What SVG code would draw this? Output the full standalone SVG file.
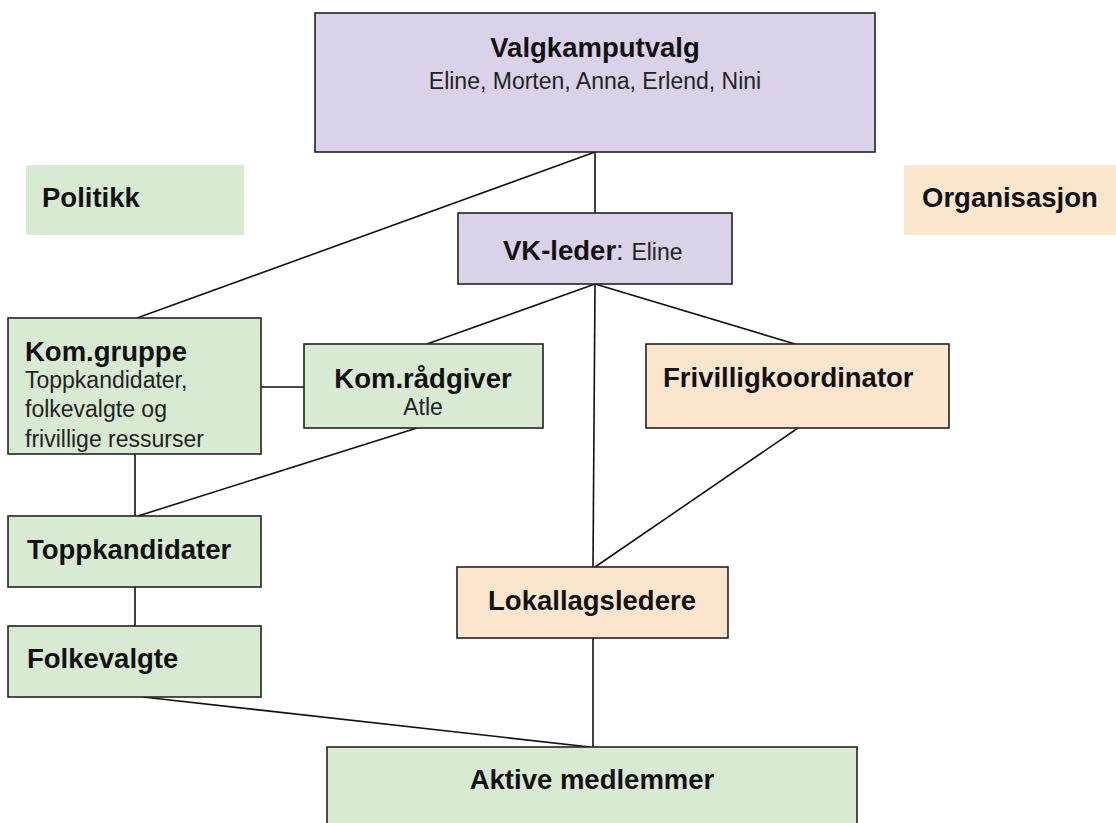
<svg xmlns="http://www.w3.org/2000/svg" width="1116" height="823" viewBox="0 0 1116 823">
<style>
.box{stroke:#222;stroke-width:1.6}
.lav{fill:#d9d2e9}
.grn{fill:#d9ead3}
.pch{fill:#fce5cd}
.b{font-family:"Liberation Sans",Arial,sans-serif;font-weight:bold;font-size:27.5px;fill:#111}
.r{font-family:"Liberation Sans",Arial,sans-serif;font-size:23px;fill:#222}
.c{text-anchor:middle}
.ln{stroke:#111;stroke-width:1.6;fill:none}
</style>
<rect width="1116" height="823" fill="#fff"/>
<g id="connectors">
<line class="ln" x1="595" y1="152" x2="595" y2="213"/>
<line class="ln" x1="595" y1="152" x2="137" y2="318"/>
<line class="ln" x1="595" y1="284" x2="427" y2="344"/>
<line class="ln" x1="595" y1="284" x2="795" y2="344"/>
<line class="ln" x1="595" y1="284" x2="593" y2="567"/>
<line class="ln" x1="261" y1="387" x2="304" y2="387"/>
<line class="ln" x1="417" y1="428" x2="138" y2="516"/>
<line class="ln" x1="135" y1="454" x2="135" y2="516"/>
<line class="ln" x1="135" y1="587" x2="135" y2="626"/>
<line class="ln" x1="798" y1="428" x2="595" y2="567"/>
<line class="ln" x1="143" y1="697" x2="590" y2="747"/>
<line class="ln" x1="593" y1="638" x2="593" y2="747"/>
</g>
<g id="valgkamputvalg">
<rect class="box lav" x="315" y="13" width="560" height="139"/>
<text class="b c" x="595" y="57">Valgkamputvalg</text>
<text class="r c" x="595" y="89">Eline, Morten, Anna, Erlend, Nini</text>
</g>
<g id="politikk">
<rect class="grn" x="26" y="165" width="218" height="70"/>
<text class="b" x="42" y="207">Politikk</text>
</g>
<g id="organisasjon">
<rect class="pch" x="904" y="165" width="212" height="70"/>
<text class="b" x="922" y="207">Organisasjon</text>
</g>
<g id="vk-leder">
<rect class="box lav" x="458" y="213" width="274" height="71"/>
<text class="b" x="503" y="260">VK-leder<tspan style="font-weight:normal">: </tspan><tspan class="r" style="font-weight:normal">Eline</tspan></text>
</g>
<g id="kom-gruppe">
<rect class="box grn" x="8" y="318" width="253" height="136"/>
<text class="b" x="25" y="361">Kom.gruppe</text>
<text class="r" x="25" y="388">Toppkandidater,</text>
<text class="r" x="25" y="417">folkevalgte og</text>
<text class="r" x="25" y="447">frivillige ressurser</text>
</g>
<g id="kom-radgiver">
<rect class="box grn" x="304" y="344" width="239" height="84"/>
<text class="b c" x="423" y="388">Kom.rådgiver</text>
<text class="r c" x="423" y="415">Atle</text>
</g>
<g id="frivilligkoordinator">
<rect class="box pch" x="646" y="344" width="303" height="84"/>
<text class="b" x="663" y="387">Frivilligkoordinator</text>
</g>
<g id="toppkandidater">
<rect class="box grn" x="8" y="516" width="253" height="71"/>
<text class="b" x="27" y="559">Toppkandidater</text>
</g>
<g id="folkevalgte">
<rect class="box grn" x="8" y="626" width="253" height="71"/>
<text class="b" x="27" y="668">Folkevalgte</text>
</g>
<g id="lokallagsledere">
<rect class="box pch" x="457" y="567" width="271" height="71"/>
<text class="b c" x="592" y="610">Lokallagsledere</text>
</g>
<g id="aktive-medlemmer">
<rect class="box grn" x="327" y="747" width="530" height="90"/>
<text class="b c" x="592" y="789">Aktive medlemmer</text>
</g>
</svg>
